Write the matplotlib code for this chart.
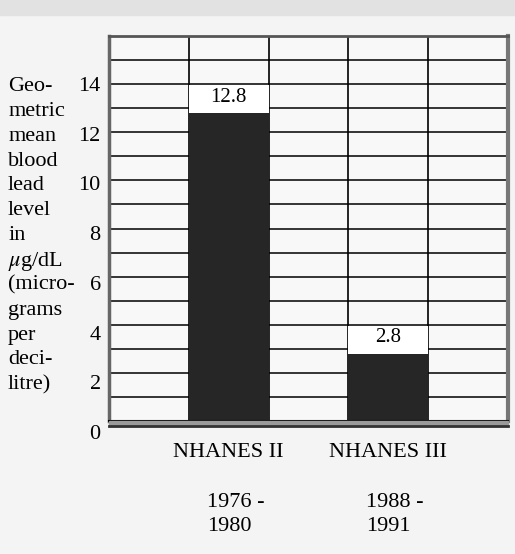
import numpy as np
import matplotlib
matplotlib.use('Agg')
import matplotlib.pyplot as plt

# values
surveys = ['NHANES II', 'NHANES III']
periods = [['1976 -', '1980'], ['1988 -', '1991']]
lead_levels = [12.8, 2.8]
yticks = [0, 2, 4, 6, 8, 10, 12, 14]
ylabel_lines = ['Geo-', 'metric', 'mean', 'blood', 'lead', 'level', 'in',
                r'$\mu$g/dL', '(micro-', 'grams', 'per', 'deci-', 'litre)']

plt.rcParams['font.family'] = 'Liberation Serif'
plt.rcParams['mathtext.fontset'] = 'stix'

W, H = 515, 554
fig = plt.figure(figsize=(W / 100, H / 100), dpi=100, facecolor='#f4f4f4')
# grey strip at top of the scan
fig.patches.append(plt.Rectangle((0, 1 - 15 / H), 1, 15 / H, transform=fig.transFigure,
                                 color='#e2e2e2', zorder=0))

# axes used only for the tick labels + the stacked y label text
# (in the scan they sit on a slightly wider spacing than the grid)
left, right, top, bottom = 109, 508, 36, 421
lab_bottom, lab_h = 432, 397.8
lab = fig.add_axes([left / W, 1 - lab_bottom / H, (right - left) / W, lab_h / H])
lab.set_frame_on(False)
lab.patch.set_visible(False)
lab.set_ylim(0, 16)
lab.set_yticks(yticks)
lab.set_xticks([])
lab.tick_params(length=0, pad=6, labelsize=16)
for i, s in enumerate(ylabel_lines):
    lab.text(-0.253, 14 - i, s, transform=lab.get_yaxis_transform(),
             ha='left', va='center_baseline', fontsize=16)

# main chart
ax = fig.add_axes([left / W, 1 - bottom / H, (right - left) / W, (bottom - top) / H])
ax.set_facecolor('#f8f8f8')
x = np.array([1.5, 3.5])
ax.set_xlim(0, 5)
ax.set_ylim(0, 16)

for yv in range(1, 16):
    ax.axhline(yv, color='black', lw=1.1, zorder=1)
for xv in [1, 2, 3, 4]:
    ax.axvline(xv, color='black', lw=1.2, zorder=1)

ax.bar(x, lead_levels, width=1.0, color='#262626', zorder=2)
# white boxes behind the value labels
ax.bar(x, 1.15, bottom=np.array(lead_levels), width=1.0, color='white', zorder=2)
for xi, v in zip(x, lead_levels):
    ax.text(xi, v + 0.65, f'{v}', ha='center', va='center', fontsize=15, zorder=3)

ax.set_xticks([])
ax.set_yticks([])
ax.spines['top'].set(lw=2, color='#555555')
ax.spines['left'].set(lw=2.5, color='#666666')
ax.spines['right'].set(lw=3, color='#777777')
ax.spines['bottom'].set(lw=1.5, color='black')
# double line at the base
ax.axhspan(-0.22, 0, color='#9a9a9a', clip_on=False, zorder=3)
ax.plot([0, 5], [-0.22, -0.22], color='#333333', lw=2, clip_on=False, zorder=3)

for xi, name, per in zip(x, surveys, periods):
    ax.annotate(name, xy=(xi, 0), xycoords=('data', 'axes fraction'),
                xytext=(0, -29 * 0.72), textcoords='offset points',
                ha='center', va='center_baseline', fontsize=16)
    for j, line in enumerate(per):
        ax.annotate(line, xy=(xi, 0), xycoords=('data', 'axes fraction'),
                    xytext=(-22 * 0.72, -(79 + 24 * j) * 0.72), textcoords='offset points',
                    ha='left', va='center_baseline', fontsize=16)

fig.savefig('out.png', dpi=100, facecolor=fig.get_facecolor())
